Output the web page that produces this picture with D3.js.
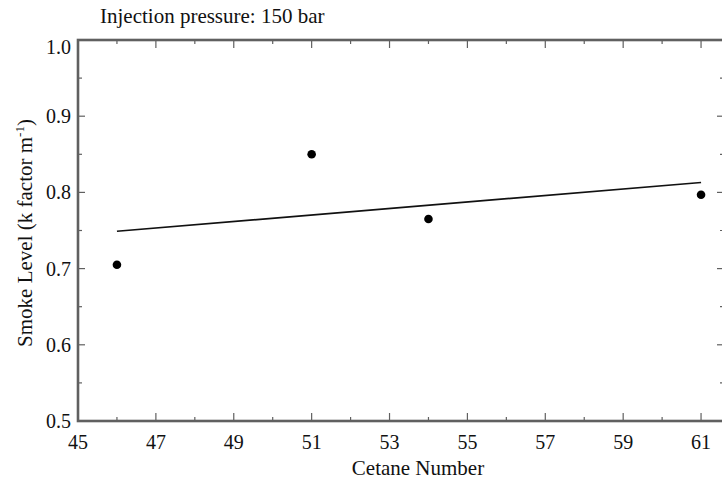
<!DOCTYPE html>
<html>
<head>
<meta charset="utf-8">
<script src="https://cdn.jsdelivr.net/npm/d3@7"></script>
<style>
    body { margin: 0; background: #fff; }
    svg text { font-family: "Liberation Serif", "DejaVu Serif", serif; fill: #111; }
</style>
</head>
<body>
<script>
    var width = 722;
    var height = 482;

    // data
    var cetane = [46, 51, 54, 61];
    var smoke = [0.705, 0.85, 0.765, 0.797];
    var fitX = [46, 61];
    var fitY = [0.749, 0.813];

    var xTicks = [45, 47, 49, 51, 53, 55, 57, 59, 61];
    var xMinor = [46, 48, 50, 52, 54, 56, 58, 60];
    var yTicks = [0.5, 0.6, 0.7, 0.8, 0.9, 1.0];
    var yMinor = [0.55, 0.65, 0.75, 0.85, 0.95];

    // right edge of the frame sits just past the window, as in the source
    var plotL = 78, plotT = 40, plotB = 421, plotR = 725;

    var x = d3.scaleLinear().domain([45, 61.615]).range([plotL, plotR]);
    var y = d3.scaleLinear().domain([0.5, 1.0]).range([plotB, plotT]);

    var svg = d3.select('body').append('svg')
        .attr('width', width)
        .attr('height', height);

    var axisColor = '#606060';

    // ticks, drawn inward
    function xTickMarks (vals, len, yPos, dir) {
        svg.append('g').selectAll('line')
            .data(vals)
          .enter().append('line')
            .attr('x1', function (d) { return x(d); })
            .attr('x2', function (d) { return x(d); })
            .attr('y1', yPos)
            .attr('y2', yPos + dir * len)
            .style('stroke', axisColor)
            .style('stroke-width', 1.2);
    }
    xTickMarks(xTicks, 8, plotB, -1);
    xTickMarks(xMinor, 4, plotB, -1);
    xTickMarks(xTicks, 8, plotT, 1);
    xTickMarks(xMinor, 4, plotT, 1);

    function yTickMarks (vals, len, xPos, dir) {
        svg.append('g').selectAll('line')
            .data(vals)
          .enter().append('line')
            .attr('x1', xPos)
            .attr('x2', xPos + dir * len)
            .attr('y1', function (d) { return y(d); })
            .attr('y2', function (d) { return y(d); })
            .style('stroke', axisColor)
            .style('stroke-width', 1.2);
    }
    yTickMarks(yTicks, 7, plotL, 1);
    yTickMarks(yMinor, 4, plotL, 1);
    yTickMarks(yTicks, 8, plotR, -1);
    yTickMarks(yMinor, 5, plotR, -1);

    // frame
    svg.append('rect')
        .attr('x', plotL)
        .attr('y', plotT)
        .attr('width', plotR - plotL)
        .attr('height', plotB - plotT)
        .style('fill', 'none')
        .style('stroke', axisColor)
        .style('stroke-width', 2.6);

    // tick labels
    svg.append('g').selectAll('text')
        .data(xTicks)
      .enter().append('text')
        .attr('x', function (d) { return x(d); })
        .attr('y', plotB + 28)
        .attr('text-anchor', 'middle')
        .style('font-size', '20px')
        .text(function (d) { return d; });

    svg.append('g').selectAll('text')
        .data(yTicks)
      .enter().append('text')
        .attr('x', plotL - 7)
        .attr('y', function (d) { return y(d) + (d === 1.0 ? 14 : 7); })
        .attr('text-anchor', 'end')
        .style('font-size', '20px')
        .text(function (d) { return d.toFixed(1); });

    // trend line
    svg.append('line')
        .attr('x1', x(fitX[0]))
        .attr('y1', y(fitY[0]))
        .attr('x2', x(fitX[1]))
        .attr('y2', y(fitY[1]))
        .style('stroke', '#111')
        .style('stroke-width', 1.7);

    // points
    svg.append('g').selectAll('circle')
        .data(cetane)
      .enter().append('circle')
        .attr('cx', function (d) { return x(d); })
        .attr('cy', function (d, i) { return y(smoke[i]); })
        .attr('r', 4.3)
        .style('fill', '#000');

    // titles
    svg.append('text')
        .attr('x', 100)
        .attr('y', 23)
        .style('font-size', '21px')
        .text('Injection pressure: 150 bar');

    svg.append('text')
        .attr('x', 418)
        .attr('y', 475)
        .attr('text-anchor', 'middle')
        .style('font-size', '21px')
        .text('Cetane Number');

    var yl = svg.append('text')
        .attr('transform', 'translate(32,233) rotate(-90)')
        .attr('text-anchor', 'middle')
        .style('font-size', '21px');
    yl.append('tspan').text('Smoke Level (k factor m');
    yl.append('tspan').attr('dy', -8).style('font-size', '13px').text('-1');
    yl.append('tspan').attr('dy', 8).text(')');
</script>
</body>
</html>
